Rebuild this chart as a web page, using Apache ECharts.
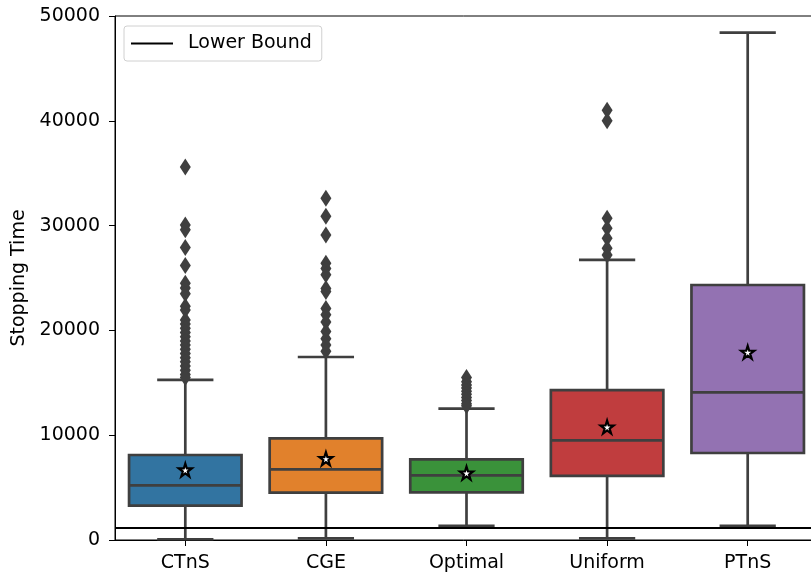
<!DOCTYPE html>
<html>
<head>
<meta charset="utf-8">
<script src="https://cdn.jsdelivr.net/npm/echarts@6/dist/echarts.min.js"></script>
<style>
html,body{margin:0;padding:0;background:#fff;}
#chart{width:811px;height:572px;}
</style>
</head>
<body>
<div id="chart"></div>
<script>
// ---- data ----
const categories = ['CTnS', 'CGE', 'Optimal', 'Uniform', 'PTnS'];
// [lower whisker, Q1, median, Q3, upper whisker]
const boxLow    = [70,    160,   1340,  160,   1340];
const boxQ1     = [3275,  4520,  4550,  6110,  8300];
const boxMedian = [5220,  6740,  6170,  9510,  14090];
const boxQ3     = [8110,  9700,  7700,  14310, 24330];
const boxHigh   = [15270, 17460, 12530, 26720, 48410];
const means     = [6680,  7760,  6390,  10780, 17910];
const outliersCTnS = [35600, 30050, 29600, 27900, 26200, 24500, 24050, 23500, 22300, 21950, 21000, 20600, 20200, 19800, 19400, 19000, 18600, 18200, 17800, 17400, 17000, 16600, 16200, 15800, 15500];
const outliersCGE = [32600, 30900, 29100, 26400, 25900, 25300, 24000, 23700, 22100, 21500, 20800, 19900, 19200, 18600, 18000];
const outliersOptimal = [15500, 15100, 14800, 14500, 14200, 13900, 13600, 13300, 13000, 12800];
const outliersUniform = [41000, 40000, 30700, 29750, 28800, 27850, 27200];
const outliersPTnS = [];
const lowerBound = 1175;
const yTicks = [0, 10000, 20000, 30000, 40000, 50000];

// ---- styles ----
const palette = ['#3274a1', '#e1812c', '#3a923a', '#c03d3e', '#9372b2'];
const edge = '#3f3f3f';
const FONT = 'DejaVu Sans';

const boxData = categories.map((c, i) => [i, boxLow[i], boxQ1[i], boxMedian[i], boxQ3[i], boxHigh[i]]);
const outlierLists = [outliersCTnS, outliersCGE, outliersOptimal, outliersUniform, outliersPTnS];
const outlierData = [];
outlierLists.forEach((arr, i) => arr.forEach(v => outlierData.push([categories[i], v])));
const meanData = categories.map((c, i) => [c, means[i]]);

const starPath = 'path://M50,0 L61.2,34.5 L97.6,34.5 L68.2,55.9 L79.4,90.5 L50,69.1 L20.6,90.5 L31.8,55.9 L2.4,34.5 L38.8,34.5 Z';

function renderBox(params, api) {
  const x = api.value(0);
  const low = api.coord([x, api.value(1)]);
  const q1 = api.coord([x, api.value(2)]);
  const med = api.coord([x, api.value(3)]);
  const q3 = api.coord([x, api.value(4)]);
  const high = api.coord([x, api.value(5)]);
  const band = api.size([1, 0])[0];
  const bw = band * 0.8;
  const cw = bw / 2;
  const cx = low[0];
  const lineStyle = { stroke: edge, lineWidth: 2.7, fill: null };
  return {
    type: 'group',
    children: [
      { type: 'line', shape: { x1: cx, y1: q3[1], x2: cx, y2: high[1] }, style: lineStyle },
      { type: 'line', shape: { x1: cx, y1: low[1], x2: cx, y2: q1[1] }, style: lineStyle },
      { type: 'line', shape: { x1: cx - cw / 2, y1: high[1], x2: cx + cw / 2, y2: high[1] }, style: lineStyle },
      { type: 'line', shape: { x1: cx - cw / 2, y1: low[1], x2: cx + cw / 2, y2: low[1] }, style: lineStyle },
      { type: 'rect', shape: { x: cx - bw / 2, y: q3[1], width: bw, height: q1[1] - q3[1] },
        style: { fill: palette[params.dataIndex], stroke: edge, lineWidth: 2.7 } },
      { type: 'line', shape: { x1: cx - bw / 2, y1: med[1], x2: cx + bw / 2, y2: med[1] }, style: lineStyle }
    ]
  };
}

const chart = echarts.init(document.getElementById('chart'), null, { renderer: 'canvas' });
chart.setOption({
  animation: false,
  backgroundColor: '#fff',
  textStyle: { fontFamily: FONT },
  grid: { left: 115, top: 16, width: 703, height: 524, outerBoundsMode: 'none', containLabel: false,
          show: true, borderColor: '#000', borderWidth: 1, backgroundColor: 'transparent' },
  legend: {
    data: [{ name: 'Lower Bound', icon: 'rect' }],
    left: 124, top: 26,
    itemWidth: 42, itemHeight: 2,
    padding: [8, 10, 8, 7],
    borderColor: '#d0d0d0', borderWidth: 1, borderRadius: 3,
    backgroundColor: '#fff',
    textStyle: { fontFamily: FONT, fontSize: 19, color: '#000', padding: [0, 0, 0, 10] },
    selectedMode: false
  },
  xAxis: {
    type: 'category',
    data: categories,
    boundaryGap: true,
    axisLine: { show: true, lineStyle: { color: '#000', width: 1 } },
    axisTick: { show: true, alignWithLabel: true, length: 6, lineStyle: { color: '#000' } },
    axisLabel: { fontFamily: FONT, fontSize: 19, color: '#000', margin: 14 },
    splitLine: { show: false }
  },
  yAxis: {
    type: 'value',
    min: yTicks[0], max: yTicks[yTicks.length - 1], interval: 10000,
    name: 'Stopping Time', nameLocation: 'middle', nameGap: 86,
    nameTextStyle: { fontFamily: FONT, fontSize: 19, color: '#000' },
    axisLine: { show: true, lineStyle: { color: '#000', width: 1 } },
    axisTick: { show: true, length: 6, lineStyle: { color: '#000' } },
    axisLabel: { fontFamily: FONT, fontSize: 19, color: '#000', margin: 15, formatter: v => String(v) },
    splitLine: { show: false }
  },
  series: [
    {
      type: 'custom',
      name: 'boxes',
      renderItem: renderBox,
      encode: { x: 0, y: [1, 2, 3, 4, 5] },
      data: boxData,
      z: 2
    },
    {
      type: 'scatter',
      name: 'outliers',
      symbol: 'diamond',
      symbolSize: [11, 17],
      itemStyle: { color: edge, opacity: 1 },
      data: outlierData,
      z: 3
    },
    {
      type: 'line',
      name: 'Lower Bound',
      color: '#000',
      data: [],
      lineStyle: { color: '#000', width: 2 },
      itemStyle: { color: '#000' },
      markLine: {
        silent: true,
        symbol: ['none', 'none'],
        label: { show: false },
        lineStyle: { color: '#000', width: 2.2, type: 'solid' },
        data: [{ yAxis: lowerBound }]
      },
      z: 4
    },
    {
      type: 'scatter',
      name: 'mean',
      symbol: starPath,
      symbolSize: 13,
      itemStyle: { color: '#fff', borderColor: '#000', borderWidth: 2.2, opacity: 1 },
      data: meanData,
      z: 5
    }
  ]
});
</script>
</body>
</html>
